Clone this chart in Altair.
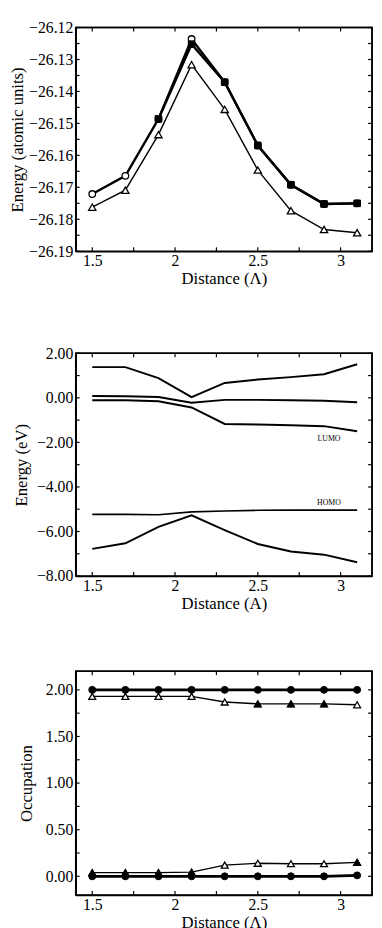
import altair as alt
import pandas as pd

FONT = "Liberation Serif"

# ---------------- data ----------------
DIST = [1.5, 1.7, 1.9, 2.1, 2.3, 2.5, 2.7, 2.9, 3.1]

# Panel 1: total energy (atomic units)
E_OPEN_CIRCLE = [-26.1721, -26.1664, -26.1486, -26.1236, -26.1371, -26.1569, -26.1692, -26.1752, -26.1750]
E_FILLED_X = [1.9, 2.1, 2.3, 2.5, 2.7, 2.9, 3.1]
E_FILLED = [-26.1486, -26.1252, -26.1371, -26.1569, -26.1692, -26.1752, -26.1750]
E_TRIANGLE = [-26.1762, -26.1709, -26.1535, -26.1316, -26.1456, -26.1646, -26.1773, -26.1832, -26.1842]

# Panel 2: orbital energies (eV)
ORB_1 = [1.38, 1.38, 0.89, 0.03, 0.67, 0.82, 0.93, 1.06, 1.51]
ORB_2 = [0.08, 0.07, 0.04, -0.22, -0.09, -0.09, -0.11, -0.13, -0.20]
ORB_3 = [-0.11, -0.11, -0.15, -0.43, -1.17, -1.20, -1.23, -1.27, -1.50]
ORB_HOMO = [-5.23, -5.23, -5.25, -5.12, -5.08, -5.05, -5.04, -5.04, -5.04]
ORB_5 = [-6.78, -6.53, -5.79, -5.27, -5.94, -6.56, -6.90, -7.04, -7.38]
ORB_LABELS = ["LUMO", "HOMO"]
ORB_LABEL_X = [2.93, 2.93]
ORB_LABEL_Y = [-1.84, -4.70]

# Panel 3: occupation numbers
OCC_TOP_CIRCLE = [2.00, 2.00, 2.00, 2.00, 2.00, 2.00, 2.00, 2.00, 2.00]
OCC_TOP_TRI = [1.93, 1.93, 1.93, 1.93, 1.87, 1.85, 1.85, 1.85, 1.84]
OCC_TOP_TRI_FILLED_X = [2.5, 2.7, 2.9]
OCC_TOP_TRI_FILLED = [1.85, 1.85, 1.85]
OCC_BOT_TRI = [0.04, 0.04, 0.04, 0.045, 0.12, 0.14, 0.135, 0.135, 0.15]
OCC_BOT_TRI_FILLED_X = [1.5, 1.7, 1.9, 2.1, 3.1]
OCC_BOT_TRI_FILLED = [0.04, 0.04, 0.04, 0.045, 0.15]
OCC_BOT_CIRCLE = [0.00, 0.00, 0.00, 0.00, 0.00, 0.00, 0.00, 0.00, 0.01]

X_TICKS = [1.5, 1.75, 2, 2.25, 2.5, 2.75, 3]
X_DOMAIN = [1.4, 3.19]

W = 302


def df(xs, ys):
    return pd.DataFrame({"x": xs, "y": ys})


def panel(layers, ydom, yticks, ylabel_expr, ytitle, xtitle, height, title_pad):
    xs = alt.Scale(domain=X_DOMAIN, nice=False, zero=False)
    ys = alt.Scale(domain=ydom, nice=False, zero=False)
    common = dict(domain=True, domainColor="black", domainWidth=1.6, grid=False, ticks=False,
                  labelOverlap=False, labelFlush=False)
    bottom = alt.Axis(orient="bottom", values=X_TICKS,
                      labelExpr="indexof([1.5,2,2.5,3], datum.value) >= 0 ? toString(datum.value) : ''",
                      labelPadding=2, labelFont=FONT, labelFontSize=16, labelColor="black",
                      title=xtitle, titleFont=FONT, titleFontSize=17, titleFontWeight="normal",
                      titleColor="black", titlePadding=2, **common)
    left = alt.Axis(orient="left", values=yticks, labelExpr=ylabel_expr,
                    labelPadding=3, labelFont=FONT, labelFontSize=16, labelColor="black",
                    title=ytitle, titleFont=FONT, titleFontSize=17, titleFontWeight="normal",
                    titleColor="black", titlePadding=title_pad, **common)

    def X():
        return alt.X("x:Q", scale=xs, axis=bottom)

    def Y():
        return alt.Y("y:Q", scale=ys, axis=left)

    xmid = (X_DOMAIN[0] + X_DOMAIN[1]) / 2
    ymid = (ydom[0] + ydom[1]) / 2

    # top and right frame edges (left and bottom come from the axis domains)
    top_edge = alt.Chart(df([xmid], [ydom[1]])).mark_tick(
        orient="horizontal", size=W + 1, thickness=1.6, color="black", opacity=1).encode(x=X(), y=Y())
    right_edge = alt.Chart(df([X_DOMAIN[1]], [ymid])).mark_tick(
        orient="vertical", size=height + 1, thickness=1.6, color="black", opacity=1).encode(x=X(), y=Y())

    # inward ticks on all four sides
    tick_style = dict(size=4, thickness=1.2, color="black", opacity=1)
    top_ticks = alt.Chart(df(X_TICKS, [ydom[1]] * len(X_TICKS))).mark_tick(
        orient="vertical", yOffset=2, **tick_style).encode(x=X(), y=Y())
    bottom_ticks = alt.Chart(df(X_TICKS, [ydom[0]] * len(X_TICKS))).mark_tick(
        orient="vertical", yOffset=-2, **tick_style).encode(x=X(), y=Y())
    right_ticks = alt.Chart(df([X_DOMAIN[1]] * len(yticks), yticks)).mark_tick(
        orient="horizontal", xOffset=-2, **tick_style).encode(x=X(), y=Y())
    left_ticks = alt.Chart(df([X_DOMAIN[0]] * len(yticks), yticks)).mark_tick(
        orient="horizontal", xOffset=2, **tick_style).encode(x=X(), y=Y())

    marks = []
    for (data, kind, opts) in layers:
        enc = dict(x=X(), y=Y())
        if kind == "line":
            m = alt.Chart(data).mark_line(color="black", **opts).encode(**enc)
        elif kind == "point":
            m = alt.Chart(data).mark_point(**opts).encode(**enc)
        else:
            enc["text"] = alt.Text("t:N")
            m = alt.Chart(data).mark_text(**opts).encode(**enc)
        marks.append(m)

    return alt.layer(top_edge, right_edge, top_ticks, bottom_ticks, right_ticks, left_ticks,
                     *marks).properties(width=W, height=height)


def open_pt(shape, size=48):
    return dict(shape=shape, size=size, filled=True, fill="white", stroke="black", strokeWidth=1.3, opacity=1)


def filled_pt(shape, size=48):
    return dict(shape=shape, size=size, filled=True, fill="black", stroke="black", strokeWidth=1, opacity=1)


# ---- panel 1
p1_layers = [
    (df(DIST, E_TRIANGLE), "line", dict(strokeWidth=1.4)),
    (df(DIST, E_OPEN_CIRCLE), "line", dict(strokeWidth=2.4)),
    (df(E_FILLED_X, E_FILLED), "line", dict(strokeWidth=2.4)),
    (df(DIST, E_TRIANGLE), "point", open_pt("triangle-up", 55)),
    (df(DIST, E_OPEN_CIRCLE), "point", open_pt("circle", 45)),
    (df(E_FILLED_X, E_FILLED), "point", filled_pt("square", 45)),
]
p1 = panel(p1_layers, [-26.19, -26.12],
           [round(-26.19 + i * 0.005, 3) for i in range(15)],
           "abs(datum.value*100 - round(datum.value*100)) < 0.01 ? format(datum.value, '.2f') : ''",
           "Energy (atomic units)", "Distance (Λ)", 228, 2)

# ---- panel 2
lab = pd.DataFrame({"x": ORB_LABEL_X, "y": ORB_LABEL_Y, "t": ORB_LABELS})
p2_layers = [
    (df(DIST, ORB_1), "line", dict(strokeWidth=2)),
    (df(DIST, ORB_2), "line", dict(strokeWidth=2)),
    (df(DIST, ORB_3), "line", dict(strokeWidth=2)),
    (df(DIST, ORB_HOMO), "line", dict(strokeWidth=1.6)),
    (df(DIST, ORB_5), "line", dict(strokeWidth=2)),
    (lab, "text", dict(font=FONT, fontSize=8, color="black", align="center", baseline="middle")),
]
p2 = panel(p2_layers, [-8, 2], list(range(-8, 3)),
           "datum.value % 2 == 0 ? format(datum.value, '.2f') : ''",
           "Energy (eV)", "Distance (A)", 227, 6)

# ---- panel 3
p3_layers = [
    (df(DIST, OCC_TOP_TRI), "line", dict(strokeWidth=1.4)),
    (df(DIST, OCC_BOT_TRI), "line", dict(strokeWidth=1.4)),
    (df(DIST, OCC_TOP_CIRCLE), "line", dict(strokeWidth=2.8)),
    (df(DIST, OCC_BOT_CIRCLE), "line", dict(strokeWidth=2.8)),
    (df(DIST, OCC_TOP_TRI), "point", open_pt("triangle-up", 50)),
    (df(DIST, OCC_BOT_TRI), "point", open_pt("triangle-up", 50)),
    (df(OCC_TOP_TRI_FILLED_X, OCC_TOP_TRI_FILLED), "point", filled_pt("triangle-up", 50)),
    (df(OCC_BOT_TRI_FILLED_X, OCC_BOT_TRI_FILLED), "point", filled_pt("triangle-up", 50)),
    (df(DIST, OCC_TOP_CIRCLE), "point", filled_pt("circle", 50)),
    (df(DIST, OCC_BOT_CIRCLE), "point", filled_pt("circle", 50)),
]
p3 = panel(p3_layers, [-0.2, 2.2], [round(-0.25 + i * 0.25, 2) for i in range(1, 10)],
           "abs(datum.value*2 - round(datum.value*2)) < 0.01 ? format(datum.value, '.2f') : ''",
           "Occupation", "Distance (Λ)", 228, 10)

chart = alt.vconcat(p1, p2, p3, spacing=58).properties(
    padding={"left": 0, "top": 2, "right": 0, "bottom": 0},
    background="white",
).configure_view(stroke="black", strokeWidth=1.5)

chart.save("out.html", embed_options={"renderer": "svg", "actions": False})
